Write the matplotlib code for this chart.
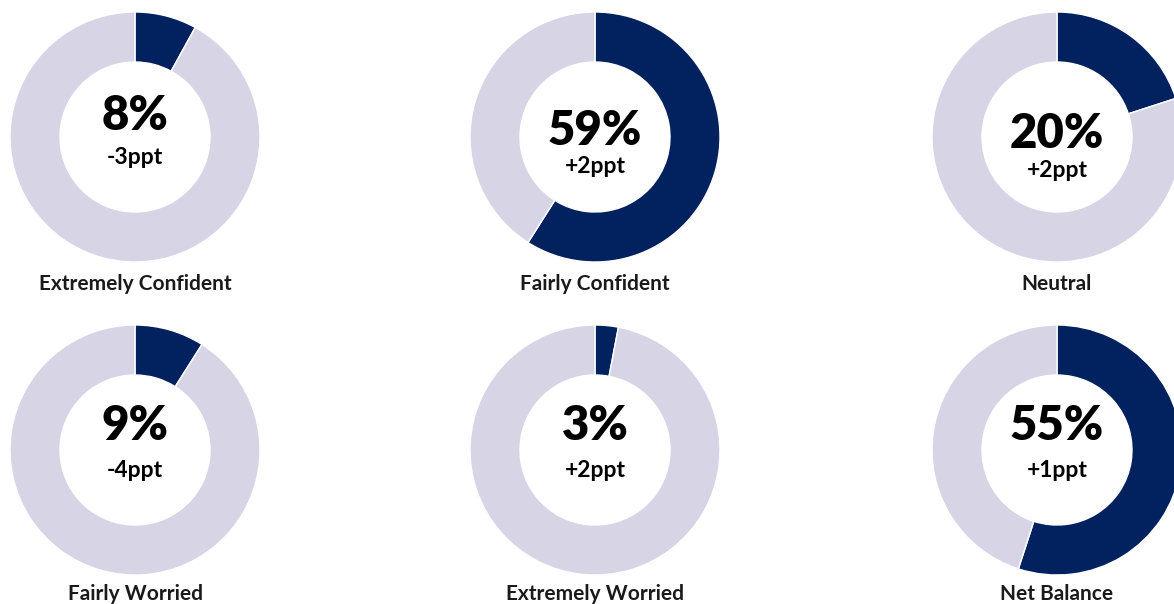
import matplotlib
matplotlib.use("Agg")
import matplotlib.pyplot as plt

# data
labels = ["Extremely Confident", "Fairly Confident", "Neutral",
          "Fairly Worried", "Extremely Worried", "Net Balance"]
shares = [8, 59, 20, 9, 3, 55]
changes = ["-3ppt", "+2ppt", "+2ppt", "-4ppt", "+2ppt", "+1ppt"]

dark = "#02215F"
light = "#D7D4E6"
plt.rcParams["font.family"] = ["Lato", "DejaVu Sans"]

W, H = 1174, 604
fig = plt.figure(figsize=(W / 100, H / 100), dpi=100)
ax = fig.add_axes([0, 0, 1, 1])

# layout in pixels (y measured from top)
cx = [135, 595, 1057]
cy = [137, 450]
radius = 125
pct_base = [[130, 145, 148], [440, 440, 440]]
chg_base = [[164, 173, 177], [477, 477, 477]]
lab_base = [290, 600]

for i, (lab, v, ch) in enumerate(zip(labels, shares, changes)):
    r, c = divmod(i, 3)
    x, y = cx[c], H - cy[r]
    ax.pie([v, 100 - v], colors=[dark, light], startangle=90,
           counterclock=False, radius=radius, center=(x, y), frame=True,
           wedgeprops=dict(width=50, edgecolor="white", linewidth=1))
    ax.text(x, H - pct_base[r][c], f"{v}%", ha="center", va="baseline",
            fontsize=34, fontweight="heavy", color="black")
    ax.text(x, H - chg_base[r][c], ch, ha="center", va="baseline",
            fontsize=16.5, fontweight="bold", color="black")
    ax.text(x, H - lab_base[r], lab, ha="center", va="baseline",
            fontsize=15, fontweight="bold", color="#1a1a1a")

ax.set_xlim(0, W)
ax.set_ylim(0, H)
ax.set_aspect("equal")
ax.axis("off")
fig.savefig("out.png", dpi=100)
